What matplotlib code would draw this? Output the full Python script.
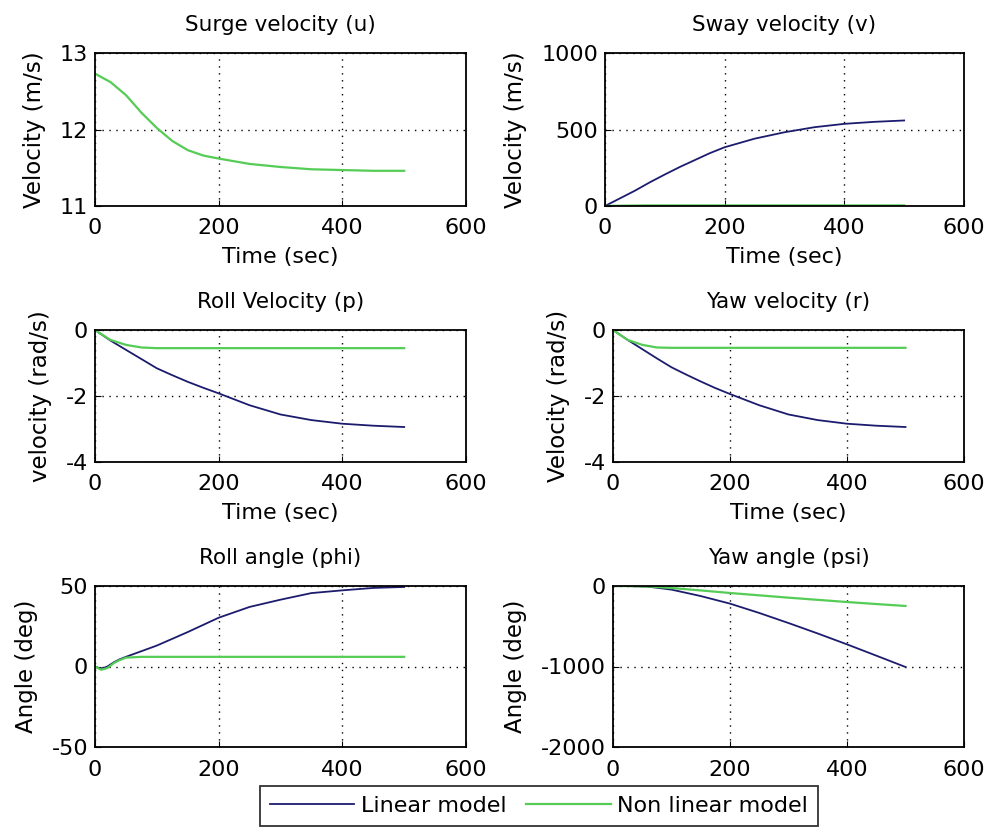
import numpy as np
import matplotlib
matplotlib.use("Agg")
import matplotlib.pyplot as plt

# time samples (sec)
t = [0, 25, 50, 75, 100, 125, 150, 175, 200, 250, 300, 350, 400, 450, 500]

# surge velocity u (m/s) - only non linear visible
surge_nl = [12.73, 12.62, 12.45, 12.22, 12.02, 11.85, 11.73, 11.66, 11.62, 11.55, 11.51, 11.48, 11.47, 11.46, 11.46]
surge_lin = surge_nl

# sway velocity v (m/s)
sway_lin = [0, 50, 100, 155, 206, 255, 300, 345, 384, 440, 482, 515, 537, 550, 559]
sway_nl = [0, 2, 3, 4, 4, 4, 4, 4, 4, 4, 4, 4, 4, 4, 4]

# roll velocity p (rad/s)
rollv_lin = [0, -0.32, -0.6, -0.88, -1.16, -1.37, -1.57, -1.75, -1.92, -2.28, -2.56, -2.73, -2.84, -2.90, -2.94]
rollv_nl = [0, -0.3, -0.45, -0.53, -0.55, -0.55, -0.55, -0.55, -0.55, -0.55, -0.55, -0.55, -0.55, -0.55, -0.55]

# yaw velocity r (rad/s)
yawv_lin = [0, -0.3, -0.58, -0.86, -1.13, -1.35, -1.56, -1.76, -1.94, -2.28, -2.56, -2.73, -2.84, -2.90, -2.94]
yawv_nl = [0, -0.3, -0.45, -0.53, -0.54, -0.54, -0.54, -0.54, -0.54, -0.54, -0.54, -0.54, -0.54, -0.54, -0.54]

# roll angle phi (deg)
t_phi = [0, 10, 20, 30, 40, 50, 75, 100, 150, 200, 250, 300, 350, 400, 450, 500]
phi_lin = [0, -1.5, 0, 2.5, 4.5, 6.0, 9.5, 13, 21.4, 30.3, 37, 41.5, 45.6, 47.3, 48.8, 49.4]
phi_nl = [0, -2.0, -1.0, 2.0, 4.0, 5.5, 6.0, 6.0, 6.0, 6.0, 6.0, 6.0, 6.0, 6.0, 6.0, 6.0]

# yaw angle psi (deg)
t_psi = [0, 30, 60, 100, 150, 200, 250, 300, 350, 400, 450, 500]
psi_lin = [0, -2, -8, -45, -125, -219, -335, -460, -590, -725, -865, -1006]
psi_nl = [0, -1, -5, -25, -55, -87, -116, -145, -172, -199, -224, -248]

LIN_COLOR = "#1c1c6e"
NL_COLOR = "#55cc55"

plt.rcParams["font.family"] = ["DejaVu Sans"]
plt.rcParams["font.size"] = 15
plt.rcParams["axes.unicode_minus"] = False

fig = plt.figure(figsize=(9.88, 8.32), dpi=100)

W, H = 988.0, 832.0
boxes = [
    (95, 466, 53, 206),
    (605, 964, 53, 206),
    (95, 466, 330, 462),
    (613, 964, 330, 462),
    (95, 466, 586, 747),
    (613, 964, 586, 747),
]

panels = [
    ("Surge velocity (u)", "Velocity (m/s)", t, surge_lin, surge_nl, (11, 13), [11, 12, 13], False),
    ("Sway velocity (v)", "Velocity (m/s)", t, sway_lin, sway_nl, (0, 1000), [0, 500, 1000], True),
    ("Roll Velocity (p)", "velocity (rad/s)", t, rollv_lin, rollv_nl, (-4, 0), [-4, -2, 0], True),
    ("Yaw velocity (r)", "Velocity (rad/s)", t, yawv_lin, yawv_nl, (-4, 0), [-4, -2, 0], True),
    ("Roll angle (phi)", "Angle (deg)", t_phi, phi_lin, phi_nl, (-50, 50), [-50, 0, 50], True),
    ("Yaw angle (psi)", "Angle (deg)", t_psi, psi_lin, psi_nl, (-2000, 0), [-2000, -1000, 0], True),
]

for i, (box, p) in enumerate(zip(boxes, panels)):
    x0, x1, y0, y1 = box
    ax = fig.add_axes([x0 / W, 1 - y1 / H, (x1 - x0) / W, (y1 - y0) / H])
    title, ylabel, tt, lin, nl, ylim, yticks, show_lin = p
    if show_lin:
        l1, = ax.plot(tt, lin, color=LIN_COLOR, lw=1.3, label="Linear model")
        l2, = ax.plot(tt, nl, color=NL_COLOR, lw=1.6, label="Non linear model")
    else:
        l2, = ax.plot(tt, nl, color=NL_COLOR, lw=1.6, label="Non linear model")
    ax.set_xlim(0, 600)
    ax.set_ylim(*ylim)
    ax.set_xticks([0, 200, 400, 600])
    ax.set_yticks(yticks)
    ax.grid(True, color="black", linestyle=(0, (1, 4)), linewidth=1.0)
    ax.tick_params(direction="in", length=4, labelsize=16)
    ax.tick_params(axis="x", pad=9)
    ax.tick_params(axis="y", pad=5)
    for s in ax.spines.values():
        s.set_linewidth(1.3)
    ax.set_title(title, fontsize=15.5, pad=16)
    ax.set_ylabel(ylabel, fontsize=16.5, labelpad=10)
    if i < 4:
        ax.set_xlabel("Time (sec)", fontsize=16, labelpad=6)
    if i == 1:
        handles = [l1, l2]

leg = fig.legend(handles, ["Linear model", "Non linear model"], loc="upper center",
                 bbox_to_anchor=(539 / W, 1 - 786 / H), ncol=2, fontsize=16,
                 frameon=True, fancybox=False, handlelength=3.8, handletextpad=0.3,
                 columnspacing=0.9, borderpad=0.45, borderaxespad=0.0)
leg.get_frame().set_edgecolor("black")
leg.get_frame().set_linewidth(1.3)

fig.savefig("out.png", dpi=100)
